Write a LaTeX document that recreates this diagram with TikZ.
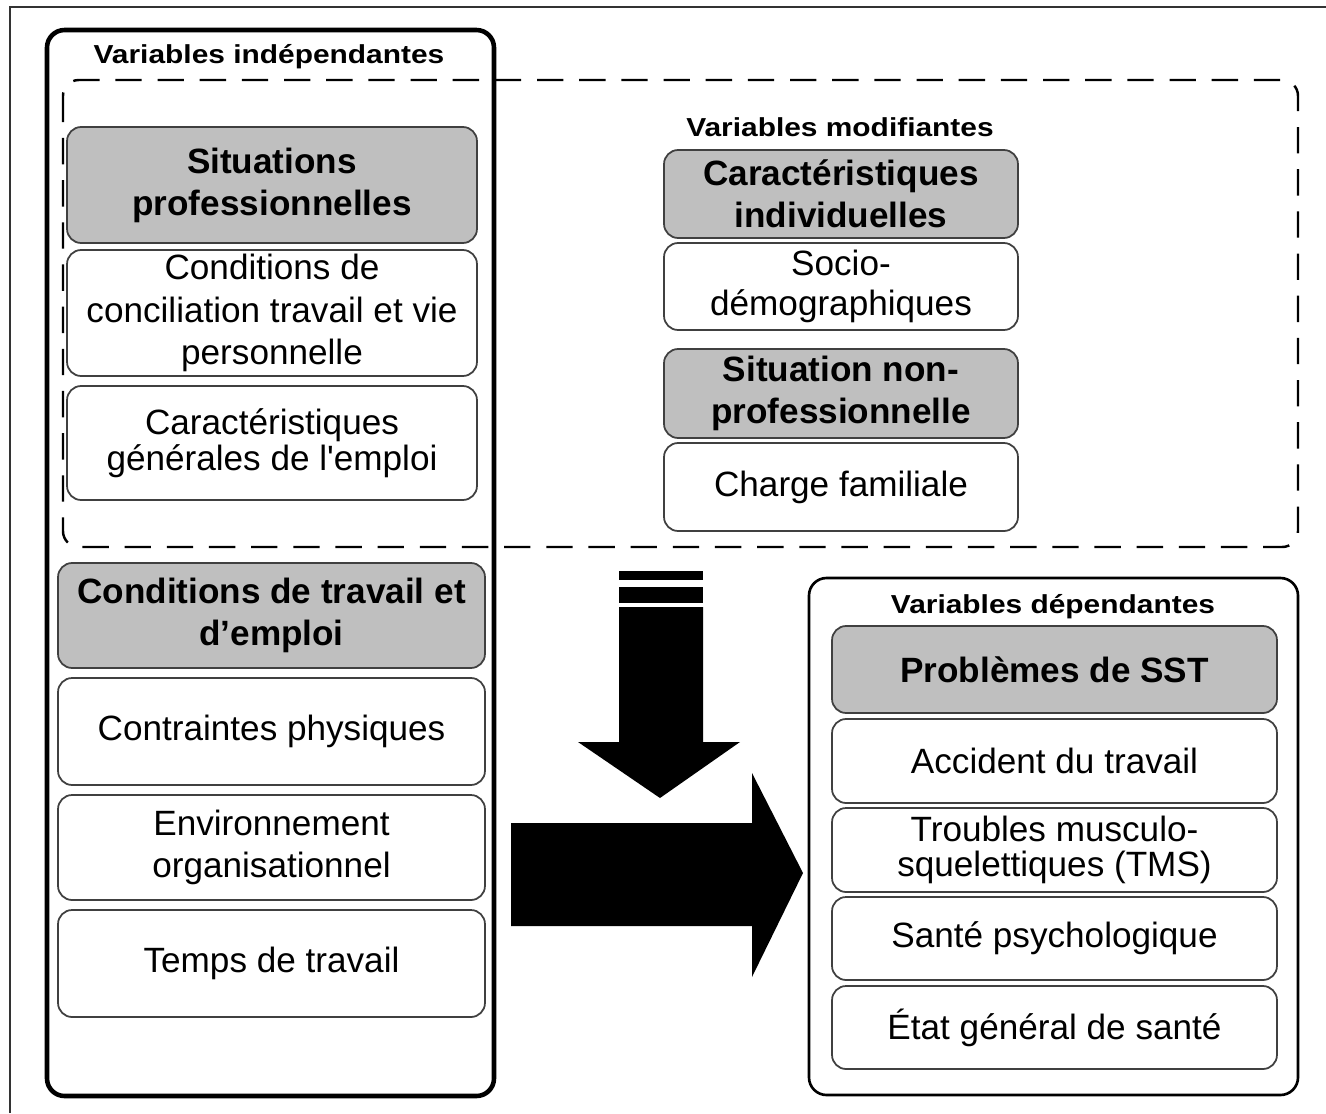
\documentclass[tikz,border=0pt]{standalone}
\usepackage{fontspec}
\setmainfont{Liberation Sans}
\newfontfamily\labelfont[FakeStretch=1.15]{Liberation Sans}

\begin{document}
\begin{tikzpicture}[x=0.02cm,y=-0.02cm,
  box/.style={draw=black!75, line width=1pt, rounded corners=8pt, align=center, inner sep=1pt,
              font=\fontsize{20}{24}\selectfont},
  headbox/.style={box, fill=gray!50, font=\bfseries\fontsize{20}{24}\selectfont},
  varlabel/.style={font=\labelfont\bfseries\fontsize{14.8}{17}\selectfont},
  upcol/.style={minimum width=8.2cm},
  lowcol/.style={minimum width=8.54cm},
  midcol/.style={minimum width=7.08cm},
  rightcol/.style={minimum width=8.9cm}]
\useasboundingbox (0,0) rectangle (1326,1113);
\draw[line width=0.85pt, black!80] (10,1113) -- (10,7) -- (1326,7);
%frames
\draw[line width=1.4pt, dash pattern=on 15pt off 9pt, rounded corners=9pt] (63,80) rectangle (1298,547);
\draw[line width=2.6pt, rounded corners=10pt] (47,30) rectangle (494,1096);
\draw[line width=1.5pt, rounded corners=10pt] (809,578) rectangle (1298,1095);
\node[varlabel] (indep) at (269,57) {Variables indépendantes};
\node[varlabel] (modif) at (840,127) {Variables modifiantes};
\node[varlabel] (dep) at (1053,607) {Variables dépendantes};
%variables independantes
\node[headbox, upcol, minimum height=2.32cm] (sitpro) at (272,185) {Situations\\professionnelles};
\node[box, upcol, minimum height=2.52cm] (concil) at (272,313) {Conditions de\\conciliation travail et vie\\personnelle};
\node[box, upcol, minimum height=2.28cm, font=\fontsize{20}{20.5}\selectfont] (cargen) at (272,443) {Caractéristiques\\générales de l\textquotesingle emploi};
\node[headbox, lowcol, minimum height=2.1cm] (condtrav) at (271.5,615.5) {Conditions de travail et\\d’emploi};
\node[box, lowcol, minimum height=2.14cm] (contr) at (271.5,731.5) {Contraintes physiques};
\node[box, lowcol, minimum height=2.1cm] (envir) at (271.5,847.5) {Environnement\\organisationnel};
\node[box, lowcol, minimum height=2.14cm] (temps) at (271.5,963.5) {Temps de travail};
%variables modifiantes
\node[headbox, midcol, minimum height=1.76cm] (carind) at (841,194) {Caractéristiques\\individuelles};
\node[box, midcol, minimum height=1.74cm, font=\fontsize{20}{22.7}\selectfont] (socio) at (841,286.5) {Socio-\\démographiques};
\node[headbox, midcol, minimum height=1.78cm] (nonpro) at (841,393.5) {Situation non-\\professionnelle};
\node[box, midcol, minimum height=1.76cm] (charge) at (841,487) {Charge familiale};
%variables dependantes
\node[headbox, rightcol, minimum height=1.74cm] (sst) at (1054.5,669.5) {Problèmes de SST};
\node[box, rightcol, minimum height=1.68cm] (accid) at (1054.5,761) {Accident du travail};
\node[box, rightcol, minimum height=1.68cm, font=\fontsize{20}{19.5}\selectfont] (tms) at (1054.5,850) {Troubles musculo-\\squelettiques (TMS)};
\node[box, rightcol, minimum height=1.66cm] (sante) at (1054.5,938.5) {Santé psychologique};
\node[box, rightcol, minimum height=1.66cm] (etat) at (1054.5,1027.5) {État général de santé};
%arrows
\fill (619,571) rectangle (703,580);
\fill (619,587) rectangle (703,603);
\fill (619,607) -- (703,607) -- (703,742) -- (740,742) -- (660,798) -- (578,742) -- (619,742) -- cycle;
\fill (511,823) -- (752,823) -- (752,773) -- (803,873) -- (752,977) -- (752,926) -- (511,926) -- cycle;
\end{tikzpicture}
\end{document}
